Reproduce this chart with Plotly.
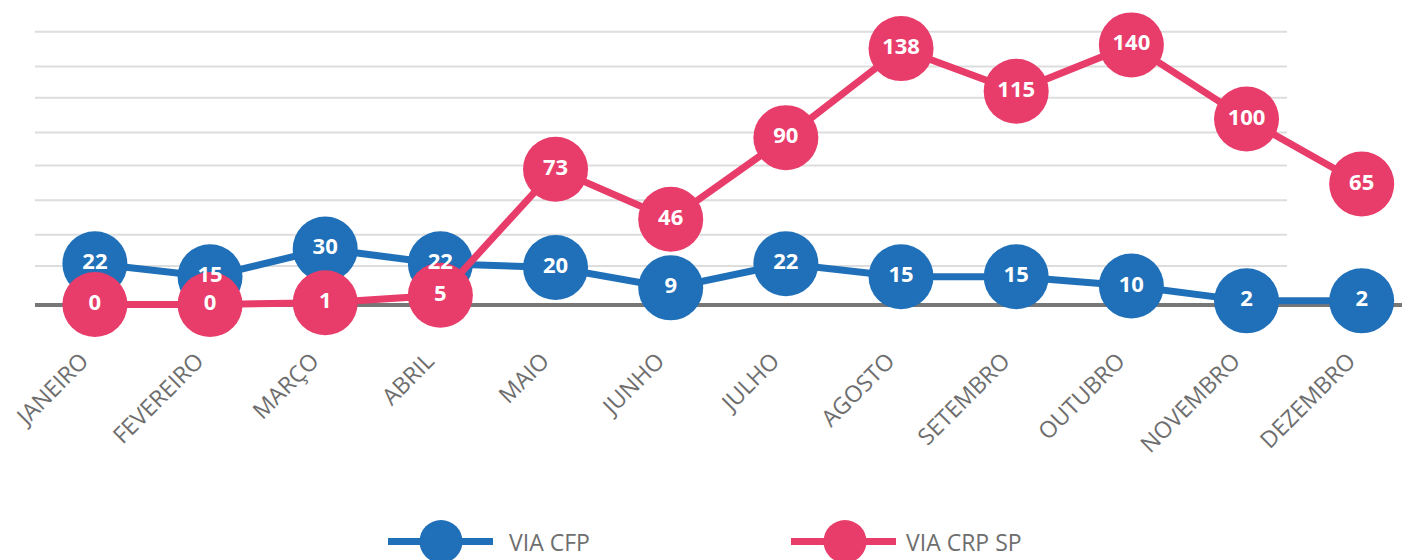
import plotly.graph_objects as go

months = ["JANEIRO", "FEVEREIRO", "MARÇO", "ABRIL", "MAIO", "JUNHO",
          "JULHO", "AGOSTO", "SETEMBRO", "OUTUBRO", "NOVEMBRO", "DEZEMBRO"]
via_cfp = [22, 15, 30, 22, 20, 9, 22, 15, 15, 10, 2, 2]
via_crp_sp = [0, 0, 1, 5, 73, 46, 90, 138, 115, 140, 100, 65]
series_names = ["VIA CFP", "VIA CRP SP"]
grid_levels = [20.8, 37.6, 56.3, 75.0, 92.8, 111.5, 128.4, 147.1]

BLUE = "#1f70b8"
PINK = "#e83c6a"
GREY_TXT = "#6e6e6e"
FONT = "Open Sans"

W, H = 1402, 560
ML, MR, MT, MB = 35, 0, 0, 215
plot_w = W - ML - MR
plot_h = H - MT - MB

series = [(series_names[0], via_cfp, BLUE), (series_names[1], via_crp_sp, PINK)]

fig = go.Figure()
for name, vals, col in series:
    fig.add_trace(go.Scatter(
        x=months, y=vals, name=name,
        mode="lines+markers",
        line=dict(color=col, width=7),
        marker=dict(color=col, size=65, line=dict(width=0)),
        cliponaxis=False,
        showlegend=False,
        hoverinfo="skip",
    ))
# value labels drawn above all markers
for name, vals, col in series:
    fig.add_trace(go.Scatter(
        x=months, y=vals, name=name,
        mode="text",
        text=[str(v) for v in vals],
        textposition="middle center",
        textfont=dict(family=FONT, size=22, color="white", weight=700),
        cliponaxis=False,
        showlegend=False,
    ))

shapes = []
for g in grid_levels:
    shapes.append(dict(type="line", xref="paper", yref="y", x0=0, x1=(1287 - ML) / plot_w,
                       y0=g, y1=g, line=dict(color="#dddddd", width=2), layer="below"))

# custom legend (line + large circle + label)
annotations = []
leg_y = (plot_h - (541.5 - MT)) / plot_h
legend_items = [(series_names[0], BLUE, 388, 493, 441, 507),
                (series_names[1], PINK, 791, 896, 845, 904)]
for name, col, lx0, lx1, cx, tx in legend_items:
    shapes.append(dict(type="line", xref="paper", yref="paper",
                       x0=(lx0 - ML) / plot_w, x1=(lx1 - ML) / plot_w, y0=leg_y, y1=leg_y,
                       line=dict(color=col, width=7)))
    shapes.append(dict(type="circle", xref="paper", yref="paper",
                       xsizemode="pixel", ysizemode="pixel",
                       xanchor=(cx - ML) / plot_w, yanchor=leg_y,
                       x0=-21.5, x1=21.5, y0=-21.5, y1=21.5,
                       fillcolor=col, line=dict(width=0)))
    annotations.append(dict(text=name, xref="paper", yref="paper",
                            x=(tx - ML) / plot_w, y=leg_y, xanchor="left", yanchor="middle",
                            showarrow=False, font=dict(family=FONT, size=23, color=GREY_TXT)))

fig.update_layout(
    width=W, height=H,
    margin=dict(l=ML, r=MR, t=MT, b=MB, autoexpand=False),
    paper_bgcolor="white", plot_bgcolor="white",
    shapes=shapes, annotations=annotations,
    showlegend=False,
    xaxis=dict(type="category", range=[-0.52, 11.35], showgrid=False, showline=False,
               zeroline=False, ticks="", tickangle=-45, automargin=False,
               ticklabelshift=-13, ticklabelstandoff=-3,
               tickfont=dict(family=FONT, size=23, color=GREY_TXT)),
    yaxis=dict(range=[-21.8, 164.2], showgrid=False, showticklabels=False, ticks="",
               zeroline=True, zerolinecolor="#777777", zerolinewidth=4, showline=False,
               automargin=False),
)

fig.write_html("out.html", config={"displayModeBar": False},
               post_script="document.body.style.margin='0';")
